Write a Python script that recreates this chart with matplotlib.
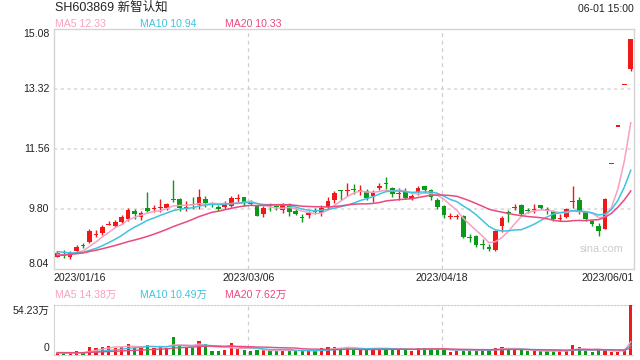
import numpy as np
import pandas as pd
import matplotlib
matplotlib.use('Agg')
from matplotlib import pyplot as plt

plt.rcParams['font.family'] = ['Liberation Sans', 'Noto Sans CJK SC', 'DejaVu Sans']

symbol = 'SH603869 新智认知'
stamp = '06-01 15:00'

date_labels = ['2023/01/16', '2023/03/06', '2023/04/18', '2023/06/01']
date_index = [0, 30, 60, 89]
price_ticks = [8.04, 9.80, 11.56, 13.32, 15.08]
vol_top = 54.23  # 万

# daily OHLC, 2023/01/16 .. 2023/06/01
opens = [8.40, 8.48, 8.40, 8.57, 8.73, 8.82, 9.04, 9.09, 9.33, 9.30,
         9.41, 9.51, 9.74, 9.56, 9.84, 9.80, 9.83, 9.82, 10.09, 10.08,
         9.84, 9.93, 9.92, 10.08, 9.98, 9.87, 9.85, 9.90, 10.10, 10.14,
         9.98, 9.92, 9.65, 9.91, 9.88, 9.77, 9.94, 9.74, 9.57, 9.62,
         9.74, 9.67, 9.87, 10.07, 10.36, 10.32, 10.37, 10.33, 10.32, 10.19,
         10.43, 10.56, 10.41, 10.23, 10.34, 10.08, 10.29, 10.46, 10.36, 10.06,
         9.90, 9.56, 9.56, 9.60, 8.97, 9.02, 8.75, 8.69, 8.60, 9.30,
         9.69, 9.83, 9.91, 9.77, 9.76, 9.91, 9.80, 9.73, 9.52, 9.57,
         10.01, 10.06, 9.71, 9.45, 9.30, 9.22, 11.11, 12.22, 13.44, 13.91]
highs = [8.58, 8.60, 8.57, 8.75, 8.80, 9.20, 9.18, 9.33, 9.46, 9.48,
         9.63, 9.84, 9.80, 9.75, 10.31, 9.92, 10.08, 9.99, 10.65, 10.12,
         10.03, 10.16, 10.38, 10.19, 10.02, 9.92, 10.04, 10.17, 10.23, 10.16,
         10.05, 9.93, 9.88, 9.99, 9.96, 9.97, 9.97, 9.83, 9.66, 9.75,
         9.83, 9.92, 10.14, 10.34, 10.37, 10.56, 10.54, 10.50, 10.40, 10.36,
         10.56, 10.74, 10.44, 10.42, 10.43, 10.24, 10.46, 10.48, 10.39, 10.11,
         9.92, 9.67, 9.66, 9.61, 9.08, 9.04, 8.93, 8.78, 9.17, 9.58,
         9.77, 9.96, 9.96, 9.84, 9.95, 9.93, 9.85, 9.76, 9.64, 9.84,
         10.48, 10.14, 9.74, 9.47, 9.38, 10.12, 11.11, 12.22, 13.44, 14.78]
lows = [8.38, 8.36, 8.33, 8.52, 8.66, 8.79, 8.97, 9.05, 9.32, 9.28,
        9.37, 9.46, 9.52, 9.48, 9.72, 9.72, 9.72, 9.76, 10.00, 9.75,
        9.75, 9.80, 9.80, 9.85, 9.85, 9.73, 9.80, 9.86, 10.02, 9.88,
        9.93, 9.58, 9.57, 9.75, 9.78, 9.68, 9.60, 9.62, 9.43, 9.55,
        9.64, 9.58, 9.80, 9.99, 10.07, 10.17, 10.25, 10.22, 10.06, 10.01,
        10.37, 10.40, 10.14, 10.07, 10.08, 10.05, 10.20, 10.26, 10.06, 9.79,
        9.54, 9.50, 9.50, 8.96, 8.84, 8.70, 8.62, 8.58, 8.58, 9.13,
        9.41, 9.76, 9.61, 9.67, 9.69, 9.81, 9.66, 9.46, 9.44, 9.54,
        9.82, 9.65, 9.46, 9.29, 9.00, 9.20, 11.11, 12.22, 13.44, 13.85]
closes = [8.50, 8.42, 8.52, 8.70, 8.71, 9.15, 9.07, 9.28, 9.35, 9.43,
          9.58, 9.77, 9.64, 9.67, 9.74, 9.83, 9.86, 9.95, 10.07, 9.82,
          9.86, 9.91, 10.14, 9.97, 9.96, 9.79, 9.95, 10.11, 10.12, 10.02,
          9.96, 9.60, 9.84, 9.89, 9.86, 9.92, 9.72, 9.64, 9.55, 9.69,
          9.70, 9.84, 10.04, 10.26, 10.32, 10.36, 10.35, 10.35, 10.11, 10.28,
          10.48, 10.54, 10.23, 10.25, 10.13, 10.17, 10.43, 10.36, 10.16, 9.87,
          9.62, 9.58, 9.60, 8.99, 8.95, 8.75, 8.73, 8.63, 9.16, 9.53,
          9.67, 9.86, 9.66, 9.75, 9.78, 9.83, 9.78, 9.52, 9.54, 9.81,
          10.03, 9.71, 9.50, 9.36, 9.15, 10.10, 11.11, 12.22, 13.44, 14.78]
# volume in 万 shares
volumes = [2.5, 1.8, 1.8, 4.3, 1.8, 9.0, 8.0, 9.0, 9.8, 8.0,
           9.0, 11.9, 8.0, 8.0, 10.8, 8.0, 9.0, 8.0, 19.2, 10.8,
           7.2, 7.2, 15.5, 11.9, 4.3, 4.3, 5.4, 13.4, 7.2, 5.4,
           4.3, 5.4, 5.4, 4.3, 4.3, 5.4, 5.4, 4.7, 4.3, 4.7,
           4.3, 7.2, 9.0, 9.0, 7.2, 9.0, 6.1, 6.1, 6.1, 6.1,
           6.1, 7.2, 6.1, 6.1, 6.1, 4.7, 7.2, 7.2, 6.1, 6.1,
           5.4, 3.6, 4.3, 6.1, 5.4, 5.4, 5.4, 5.4, 8.0, 9.0,
           7.6, 5.2, 5.0, 4.1, 4.1, 4.0, 4.1, 4.5, 4.4, 4.5,
           10.8, 8.9, 4.6, 3.5, 5.2, 5.3, 3.4, 3.5, 5.47, 54.23]
# 19 sessions before the window, needed for the moving averages
pre_closes = [8.20, 8.25, 8.22, 8.30, 8.28, 8.35, 8.40, 8.38, 8.45, 8.50,
              8.62, 8.70, 8.66, 8.60, 8.55, 8.50, 8.48, 8.45, 8.44]
pre_volumes = [3.0, 2.8, 3.5, 2.6, 3.1, 2.9, 2.4, 3.3, 2.7, 2.5,
               3.0, 2.2, 2.6, 2.9, 2.4, 2.1, 2.5, 2.3, 2.0]

RED = '#f0191a'
GREEN = '#0a9a1a'
MA_COLORS = {5: '#f9a0c0', 10: '#3ec3e2', 20: '#ea4a7e'}
FRAME = '#d4d4d4'
TXT = '#222222'

W, H = 640, 360
fig = plt.figure(figsize=(6.4, 3.6), dpi=100)
ax = fig.add_axes([54 / W, 1 - 269 / H, 580 / W, 240 / H])
axv = fig.add_axes([54 / W, 1 - 355 / H, 580 / W, 50 / H])

x = np.arange(len(closes))
o, h, l, c = map(np.array, (opens, highs, lows, closes))
col = np.where(c >= o, RED, GREEN)

# candles
ax.vlines(x, l, h, colors=col, lw=1, zorder=3)
body = np.maximum(np.abs(c - o), 0.03)
ax.bar(x, body, bottom=np.minimum(o, c), width=0.72, color=col, lw=0, zorder=4)

# moving averages
full_c = pd.Series(pre_closes + closes)
full_v = pd.Series(pre_volumes + volumes)
n_pre = len(pre_closes)
for n, cl in MA_COLORS.items():
    ax.plot(x, full_c.rolling(n).mean().values[n_pre:], color=cl, lw=1.1, zorder=5)
    axv.plot(x, full_v.rolling(n).mean().values[n_pre:], color=cl, lw=1.0, zorder=5)

ax.set_xlim(-0.5, len(closes) - 0.5)
ax.set_ylim(price_ticks[0], price_ticks[-1])
for t in price_ticks[1:-1]:
    ax.axhline(t, color='#dcdcdc', lw=1.2, ls=(0, (2, 2)), zorder=1)
for i in date_index[1:-1]:
    ax.axvline(i - 0.36, color='#cfcfcf', lw=0.9, ls=(0, (3, 3)), zorder=1)
    axv.axvline(i - 0.36, color='#cfcfcf', lw=0.9, ls=(0, (3, 3)), zorder=1)
for s in ax.spines.values():
    s.set_color(FRAME)
    s.set_linewidth(1)
ax.set_xticks([])
ax.set_yticks([])

# price labels
yt = ax.get_yaxis_transform()
for t in price_ticks:
    va = 'center'
    if t == price_ticks[-1]:
        va = 'top'
    elif t == price_ticks[0]:
        va = 'bottom'
    ax.text(-0.008, t, '%.2f' % t, transform=yt, ha='right', va=va,
            fontsize=7.6, color=TXT)

# date labels
xt = ax.get_xaxis_transform()
for lab, i in zip(date_labels, date_index):
    if i == date_index[0]:
        ax.text(-0.5, -0.018, lab, transform=xt, ha='left', va='top', fontsize=7.6, color=TXT)
    elif i == date_index[-1]:
        ax.text(len(closes) - 0.5, -0.018, lab, transform=xt, ha='right', va='top', fontsize=7.6, color=TXT)
    else:
        ax.text(i - 0.36, -0.018, lab, transform=xt, ha='center', va='top', fontsize=7.6, color=TXT)

ax.text(0.945, 0.083, 'sina.com', transform=ax.transAxes, ha='center', va='center',
        fontsize=7.8, color='#cccccc')

# volume panel
axv.bar(x, volumes, width=0.5, color=col, lw=0, zorder=3)
axv.set_xlim(-0.5, len(closes) - 0.5)
axv.set_ylim(0, vol_top)
axv.set_xticks([])
axv.set_yticks([])
axv.spines['right'].set_visible(False)
axv.spines['left'].set_color(FRAME)
for k in ('top', 'bottom'):
    axv.spines[k].set_color('#d0d0d0')
    axv.spines[k].set_linestyle((0, (1.5, 1.5)))
axv.text(-0.008, 0.88, '%.2f万' % vol_top, transform=axv.transAxes, ha='right', va='center',
         fontsize=7.6, color=TXT)
axv.text(-0.008, 0.14, '0', transform=axv.transAxes, ha='right', va='center',
         fontsize=7.6, color=TXT)

# header texts
fig.text(55 / W, 1 - 8 / H, symbol, ha='left', va='center', fontsize=9, color=TXT)
fig.text(634 / W, 1 - 9 / H, stamp, ha='right', va='center', fontsize=7.6, color=TXT)
ma_last = {n: full_c.rolling(n).mean().values[-1] for n in MA_COLORS}
vma_last = {n: full_v.rolling(n).mean().values[-1] for n in MA_COLORS}
for (n, cl), px in zip(MA_COLORS.items(), [55, 140, 225]):
    fig.text(px / W, 1 - 24 / H, 'MA%d %.2f' % (n, ma_last[n]), ha='left', va='center',
             fontsize=7.6, color=cl)
    fig.text(px / W, 1 - 295 / H, 'MA%d %.2f万' % (n, vma_last[n]), ha='left', va='center',
             fontsize=7.6, color=cl)

fig.savefig('out.png', dpi=100)
